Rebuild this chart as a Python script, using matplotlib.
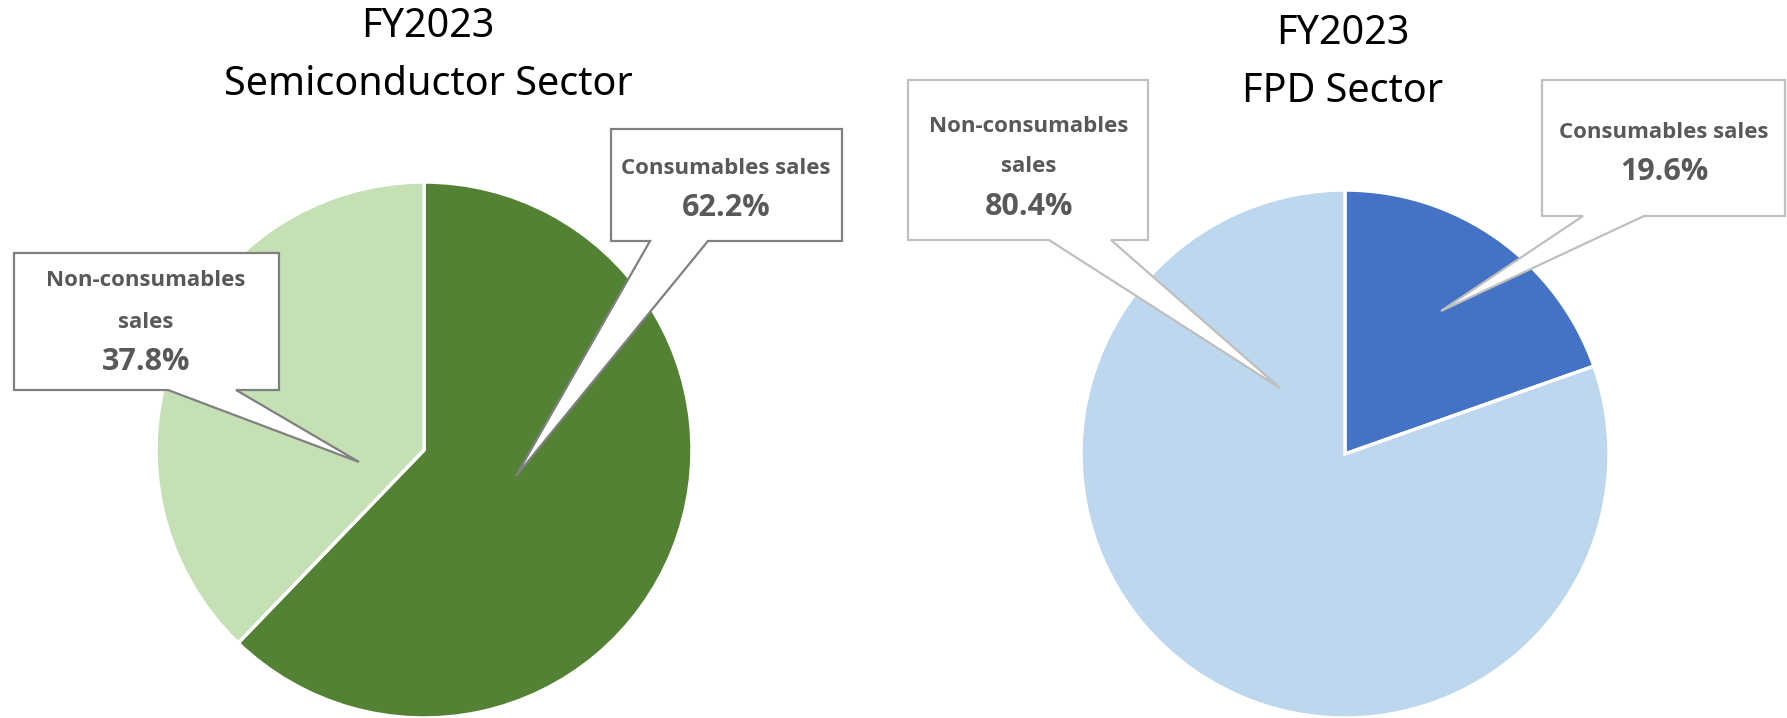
import matplotlib.pyplot as plt
from matplotlib.patches import Polygon

plt.rcParams['font.family'] = ['Noto Sans', 'DejaVu Sans']

# FY2023 sales mix per sector (%)
labels = ["Consumables sales", "Non-consumables\nsales"]
semi_share = [62.2, 37.8]
fpd_share = [19.6, 80.4]
semi_colors = ["#548235", "#C5E0B4"]
fpd_colors = ["#4472C4", "#BDD7EE"]
titles = [("FY2023", "Semiconductor Sector"), ("FY2023", "FPD Sector")]

W, H = 1787, 718
fig = plt.figure(figsize=(W / 100, H / 100), dpi=100)
ax = fig.add_axes([0, 0, 1, 1])


def Y(y):
    # pixel rows counted from the top
    return H - y


def pie(center, radius, values, colors):
    ax.pie(values, colors=colors, startangle=90, counterclock=False,
           center=(center[0], Y(center[1])), radius=radius,
           wedgeprops=dict(edgecolor="white", linewidth=2.5), frame=True)


def callout(box, tail, tip, lines, edge):
    x0, y0, x1, y1 = box
    t0, t1 = tail
    pts = [(x0, y0), (x1, y0), (x1, y1), (t1, y1), tip, (t0, y1), (x0, y1)]
    ax.add_patch(Polygon([(x, Y(y)) for x, y in pts], closed=True,
                         facecolor="white", edgecolor=edge, linewidth=1.6, zorder=5))
    for text, x, y, size in lines:
        ax.text(x, Y(y), text, ha="center", va="center", fontsize=size,
                family=["Open Sans", "DejaVu Sans"], fontweight="bold",
                color="#595959", zorder=6)


pie((424, 450), 268, semi_share, semi_colors)
pie((1345, 454), 264, fpd_share, fpd_colors)
ax.set_xlim(0, W)
ax.set_ylim(0, H)
ax.set_aspect("equal")
ax.axis("off")

for (line1, line2), x, y in zip(titles, [428, 1343], [27, 34]):
    ax.text(x, Y(y), line1, ha="center", va="center", fontsize=28.5)
    ax.text(x, Y(y + 58), line2, ha="center", va="center", fontsize=28.5)

lab, pct = 16, 22
callout((14, 253, 279, 390), (168, 236), (359, 462),
        [("Non-consumables", 146, 281, lab), ("sales", 146, 322, lab),
         (f"{semi_share[1]}%", 146, 362, pct)], "#808080")
callout((611, 129, 842, 241), (650, 708), (516, 476),
        [(labels[0], 726, 169, lab), (f"{semi_share[0]}%", 726, 208, pct)], "#808080")
callout((908, 80, 1148, 240), (1049, 1111), (1280, 388),
        [("Non-consumables", 1029, 127, lab), ("sales", 1029, 167, lab),
         (f"{fpd_share[1]}%", 1029, 207, pct)], "#BFBFBF")
callout((1542, 80, 1785, 216), (1583, 1644), (1441, 311),
        [(labels[0], 1664, 133, lab), (f"{fpd_share[0]}%", 1664, 172, pct)], "#BFBFBF")

fig.savefig("out.png", dpi=100)
